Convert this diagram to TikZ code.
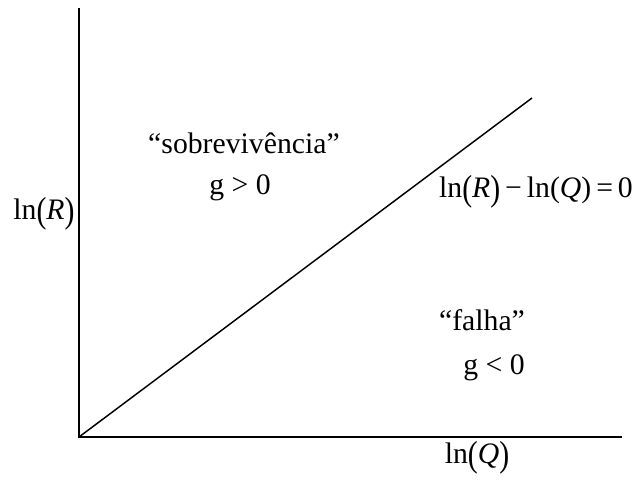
\documentclass[tikz,border=0pt]{standalone}
\usepackage{fontspec}
\setmainfont{Liberation Serif}
\usetikzlibrary{positioning}
\newcommand{\lpar}{\raisebox{-0.12em}{\scalebox{1}[1.22]{(}}}
\newcommand{\rpar}{\raisebox{-0.12em}{\scalebox{1}[1.22]{)}}}
\tikzset{
  axisline/.style={line width=1.5pt, color=black},
  boundline/.style={line width=1.1pt, color=black},
  plotlabel/.style={
    inner sep=0pt, font=\fontsize{22.3}{26}\selectfont, text=black, anchor=center,
  },
}
\begin{document}
\begin{tikzpicture}[x=0.75pt, y=-0.75pt]
  \useasboundingbox (0,0) rectangle (643,481);

  % === Axes ===
  \coordinate (origin) at (79,437);
  \coordinate (ytop) at (79,8);
  \coordinate (xend) at (622,437);
  \coordinate (diagend) at (532,98);
  \draw[axisline] (ytop) -- (origin) -- (xend);

  % === Limit state line ===
  \draw[boundline] (origin) -- (diagend);

  % === Axis labels ===
  \node[plotlabel] (ylab) at (44,214) {ln\lpar\textit{R}\rpar};
  \node[plotlabel] (xlab) at (477,458) {ln\lpar\textit{Q}\rpar};

  % === Regions ===
  \node[plotlabel] (safe) at (244,143) {“sobrevivência”};
  \node[plotlabel] (gpos) at (240,188) {g > 0};
  \node[plotlabel] (fail) at (482,320) {“falha”};
  \node[plotlabel] (gneg) at (494,368) {g < 0};
  \node[plotlabel] (eqn) at (536,192) {ln\lpar\textit{R}\rpar\,−\,ln(\textit{Q})\,=\,0};

\end{tikzpicture}
\end{document}
